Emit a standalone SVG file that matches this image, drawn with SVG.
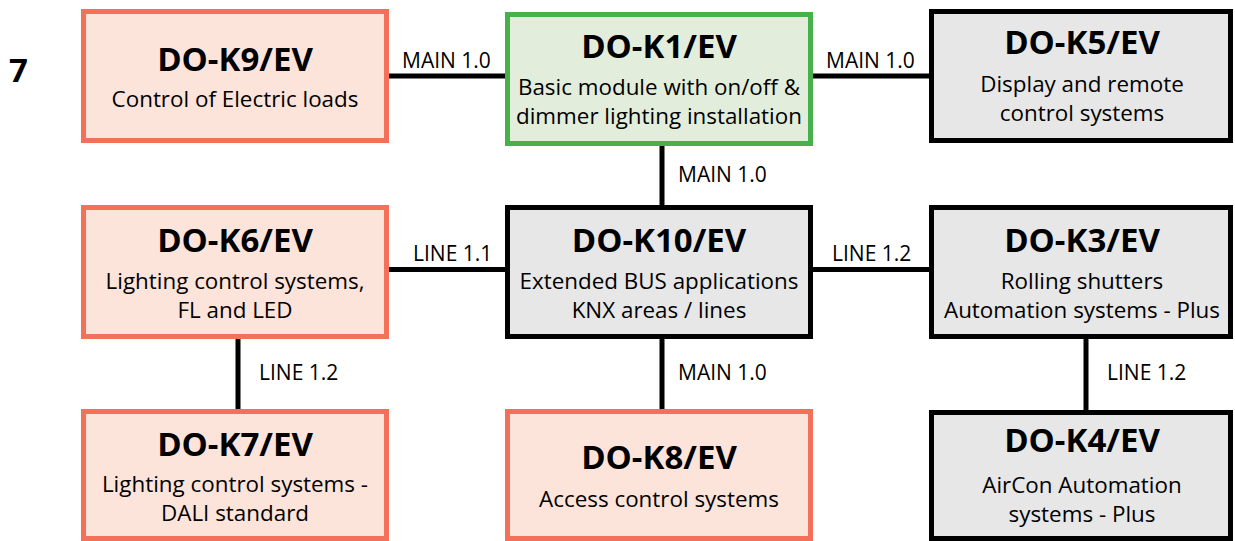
<svg xmlns="http://www.w3.org/2000/svg" width="1235" height="541" viewBox="0 0 1235 541">
<style>
.box{stroke-width:5}
.red{fill:#FDE4DA;stroke:#F3715A}
.green{fill:#E2EEDB;stroke:#46B04B}
.gray{fill:#E7E7E7;stroke:#000}
.t{font-family:"Open Sans","Liberation Sans",sans-serif;font-weight:bold;font-size:33px;fill:#000;text-anchor:middle}
.b{font-family:"Open Sans","Liberation Sans",sans-serif;font-size:22.4px;fill:#000;text-anchor:middle}
.l{font-family:"Open Sans","Liberation Sans",sans-serif;font-size:21px;fill:#000}
.c{stroke:#000;stroke-width:5;fill:none}
</style>
<rect width="1235" height="541" fill="#fff"/>
<text x="9" y="82" class="t" style="text-anchor:start">7</text>
<g id="connectors">
<line class="c" x1="389" y1="76" x2="505" y2="76"/>
<line class="c" x1="813" y1="76" x2="929" y2="76"/>
<line class="c" x1="662" y1="146" x2="662" y2="205"/>
<line class="c" x1="389" y1="269.5" x2="505" y2="269.5"/>
<line class="c" x1="813" y1="269.5" x2="929" y2="269.5"/>
<line class="c" x1="238" y1="339" x2="238" y2="409"/>
<line class="c" x1="662" y1="339" x2="662" y2="409"/>
<line class="c" x1="1086" y1="339" x2="1086" y2="410"/>
<text class="l" x="402" y="68">MAIN 1.0</text>
<text class="l" x="826" y="68">MAIN 1.0</text>
<text class="l" x="678" y="182">MAIN 1.0</text>
<text class="l" x="413" y="261">LINE 1.1</text>
<text class="l" x="832" y="261">LINE 1.2</text>
<text class="l" x="259" y="380">LINE 1.2</text>
<text class="l" x="678" y="380">MAIN 1.0</text>
<text class="l" x="1107" y="380">LINE 1.2</text>
</g>
<g id="k9">
<rect class="box red" x="83.5" y="11.5" width="303" height="129"/>
<text class="t" x="235" y="71">DO-K9/EV</text>
<text class="b" x="235" y="107">Control of Electric loads</text>
</g>
<g id="k1">
<rect class="box green" x="507.5" y="14.5" width="303" height="129"/>
<text class="t" x="659" y="58">DO-K1/EV</text>
<text class="b" x="659" y="95">Basic module with on/off &amp;</text>
<text class="b" x="659" y="124">dimmer lighting installation</text>
</g>
<g id="k5">
<rect class="box gray" x="931.5" y="11.5" width="299" height="129"/>
<text class="t" x="1082" y="54">DO-K5/EV</text>
<text class="b" x="1082" y="92">Display and remote</text>
<text class="b" x="1082" y="121">control systems</text>
</g>
<g id="k6">
<rect class="box red" x="83.5" y="207.5" width="303" height="129"/>
<text class="t" x="235" y="252">DO-K6/EV</text>
<text class="b" x="235" y="289">Lighting control systems,</text>
<text class="b" x="235" y="318">FL and LED</text>
</g>
<g id="k10">
<rect class="box gray" x="507.5" y="207.5" width="303" height="129"/>
<text class="t" x="659" y="252">DO-K10/EV</text>
<text class="b" x="659" y="289">Extended BUS applications</text>
<text class="b" x="659" y="318">KNX areas / lines</text>
</g>
<g id="k3">
<rect class="box gray" x="931.5" y="207.5" width="299" height="129"/>
<text class="t" x="1082" y="252">DO-K3/EV</text>
<text class="b" x="1082" y="289">Rolling shutters</text>
<text class="b" x="1082" y="318">Automation systems - Plus</text>
</g>
<g id="k7">
<rect class="box red" x="83.5" y="411.5" width="303" height="127"/>
<text class="t" x="235" y="456">DO-K7/EV</text>
<text class="b" x="235" y="492">Lighting control systems -</text>
<text class="b" x="235" y="521">DALI standard</text>
</g>
<g id="k8">
<rect class="box red" x="507.5" y="411.5" width="303" height="127"/>
<text class="t" x="659" y="469">DO-K8/EV</text>
<text class="b" x="659" y="507">Access control systems</text>
</g>
<g id="k4">
<rect class="box gray" x="931.5" y="412.5" width="299" height="126"/>
<text class="t" x="1082" y="452">DO-K4/EV</text>
<text class="b" x="1082" y="493">AirCon Automation</text>
<text class="b" x="1082" y="522">systems - Plus</text>
</g>
</svg>
